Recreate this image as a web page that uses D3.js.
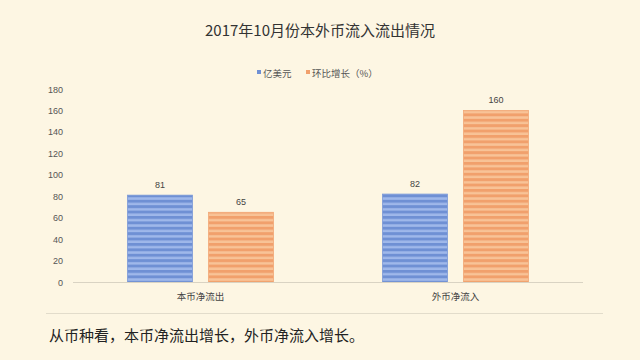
<!DOCTYPE html>
<html><head><meta charset="utf-8">
<script src="https://cdn.jsdelivr.net/npm/d3@7"></script>
<style>
html,body{margin:0;padding:0;background:#fdf6e3;}
svg{display:block;font-family:"Noto Sans CJK SC","Noto Sans",sans-serif;}
</style></head><body>
<script>
const categories = ["本币净流出", "外币净流入"];
const seriesNames = ["亿美元", "环比增长（%）"];
const usdValues = [81, 82];
const momValues = [65, 160];
const yTicks = [0, 20, 40, 60, 80, 100, 120, 140, 160, 180];
const title = "2017年10月份本外币流入流出情况";
const note = "从币种看，本币净流出增长，外币净流入增长。";

const W = 640, H = 360;
const svg = d3.select("body").append("svg").attr("width", W).attr("height", H);
svg.append("rect").attr("width", W).attr("height", H).attr("fill", "#fdf6e3");

const defs = svg.append("defs");
function stripe(id, dark, light) {
  const p = defs.append("pattern").attr("id", id).attr("patternUnits", "userSpaceOnUse")
    .attr("width", 8).attr("height", 5.4);
  p.append("rect").attr("width", 8).attr("height", 5.4).attr("fill", dark);
  p.append("rect").attr("y", 2.9).attr("width", 8).attr("height", 2.5).attr("fill", light);
}
stripe("pBlue", "#6f90d4", "#9fb8ea");
stripe("pOrange", "#f1a06c", "#f8c397");
const fills = ["url(#pBlue)", "url(#pOrange)"];
const legendColors = ["#6f90d4", "#f1a06c"];
const edgeColors = ["#7c9ad8", "#f2a877"];

const x0 = d3.scaleBand().domain(categories).range([73, 583]).paddingInner(0).paddingOuter(0);
const x1 = d3.scaleBand().domain([0, 1]).range([54.5, 200.5]).paddingInner(0.1975).paddingOuter(0);
const y = d3.scaleLinear().domain([0, 180]).range([282, 89]);

svg.append("text").attr("x", 320).attr("y", 36).attr("text-anchor", "middle")
  .attr("font-size", 15).attr("fill", "#333").text(title);

// legend
const lg = svg.append("g");
const legendX = [257, 306];
seriesNames.forEach((n, i) => {
  lg.append("rect").attr("x", legendX[i]).attr("y", 70).attr("width", 4).attr("height", 4).attr("fill", legendColors[i]);
  lg.append("text").attr("x", legendX[i] + 6).attr("y", 76.5).attr("font-size", 9.5).attr("fill", "#555").text(n);
});

// y axis labels
svg.append("g").selectAll("text").data(yTicks).join("text")
  .attr("x", 63).attr("y", d => y(d) + 3.5).attr("text-anchor", "end")
  .attr("font-size", 9).attr("fill", "#555").attr("font-family", "Liberation Sans, Arial, sans-serif")
  .text(d => d);

const series = [usdValues, momValues];
const g = svg.append("g");
categories.forEach((c, ci) => {
  series.forEach((vals, si) => {
    const bx = x0(c) + x1(si);
    g.append("rect").attr("x", bx).attr("y", y(vals[ci])).attr("width", x1.bandwidth())
      .attr("height", y(0) - y(vals[ci])).attr("fill", fills[si])
      .attr("stroke", edgeColors[si]).attr("stroke-width", 0.8);
    g.append("text").attr("x", bx + x1.bandwidth() / 2).attr("y", y(vals[ci]) - 7)
      .attr("text-anchor", "middle").attr("font-size", 9).attr("fill", "#444")
      .attr("font-family", "Liberation Sans, Arial, sans-serif").text(vals[ci]);
  });
});

// baseline
svg.append("line").attr("x1", 73).attr("x2", 583).attr("y1", y(0) + 0.5).attr("y2", y(0) + 0.5)
  .attr("stroke", "#d9d3c3").attr("stroke-width", 1);

// x labels
svg.append("g").selectAll("text").data(categories).join("text")
  .attr("x", d => x0(d) + x0.bandwidth() / 2).attr("y", 300).attr("text-anchor", "middle")
  .attr("font-size", 9.5).attr("fill", "#444").text(d => d);

// separator
svg.append("line").attr("x1", 46).attr("x2", 603).attr("y1", 313.5).attr("y2", 313.5)
  .attr("stroke", "#e2dccb").attr("stroke-width", 1);

svg.append("text").attr("x", 49).attr("y", 341).attr("font-size", 15).attr("fill", "#222").text(note);
</script>
</body></html>
